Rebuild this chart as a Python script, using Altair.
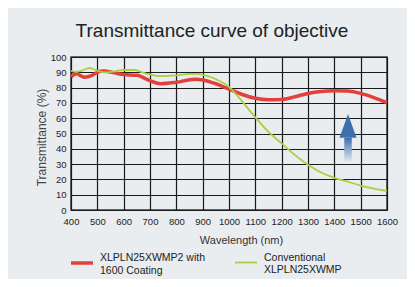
import altair as alt
import pandas as pd

wl_new = [400, 420, 450, 480, 500, 525, 560, 600, 650, 700, 740, 800, 870, 900, 950,
          1000, 1050, 1100, 1150, 1200, 1250, 1300, 1350, 1400, 1450, 1500, 1550, 1600]
t_new = [87, 89, 86.8, 88, 90, 90.8, 89.8, 88.5, 88, 84.5, 82.5, 83.5, 85.5, 85, 82.5,
         79, 75.5, 73, 72, 72.2, 74, 76.2, 77.5, 78, 77.7, 76.2, 73.5, 70.2]

wl_old = [400, 420, 440, 470, 500, 530, 560, 600, 640, 670, 700, 750, 800, 850, 880, 920,
          950, 1000, 1050, 1100, 1150, 1200, 1250, 1300, 1350, 1400, 1450, 1500, 1550, 1600]
t_old = [91, 90.3, 91, 92.8, 91, 90, 90.5, 91.5, 91.5, 90, 88.5, 87.5, 88, 89, 89, 87.5,
         85.5, 80.5, 71, 60.5, 51, 43.5, 36, 29.5, 24.5, 21, 18.5, 16, 14, 12.5]

series = ["XLPLN25XWMP2 with|1600 Coating", "Conventional|XLPLN25XWMP"]
colors = ["#E2403A", "#A8D040"]
widths = [3.5, 1.8]

arrow_x = [1452]
arrow_base = [47.2]
arrow_tail = [30.8]

x_ticks = list(range(400, 1601, 100))
y_ticks = list(range(0, 101, 10))

df = pd.concat([
    pd.DataFrame({"wl": wl_new, "t": t_new, "series": series[0], "order": range(len(wl_new))}),
    pd.DataFrame({"wl": wl_old, "t": t_old, "series": series[1], "order": range(len(wl_old))}),
])
arrow = pd.DataFrame({"wl": arrow_x, "t": arrow_base, "t2": arrow_tail})

FONT = "Liberation Sans"

x_enc = alt.X("wl:Q", scale=alt.Scale(domain=[400, 1600], nice=False, padding=0),
              axis=alt.Axis(values=x_ticks, title="Wavelength (nm)", grid=True,
                            ticks=False, domain=False, labelPadding=6, format="d",
                            labelFlush=False, labelOverlap=False,
                            labelFontSize=9.5, labelColor="#222", labelFont=FONT,
                            titleFont=FONT, titleFontSize=11, titleFontWeight="normal",
                            titleColor="#333", titlePadding=9, titleX=170,
                            gridColor="#1a1a1a", gridWidth=1.2, gridOpacity=1))
y_enc = alt.Y("t:Q", scale=alt.Scale(domain=[0, 100], nice=False, padding=0),
              axis=alt.Axis(values=y_ticks, title="Transmittance (%)", grid=True,
                            ticks=False, domain=False, labelPadding=5,
                            labelFlush=False, labelOverlap=False,
                            labelFontSize=9.5, labelColor="#222", labelFont=FONT,
                            titleFont=FONT, titleFontSize=12, titleFontWeight="normal",
                            titleColor="#444", titlePadding=2, titleY=80,
                            gridColor="#1a1a1a", gridWidth=1.2, gridOpacity=1))

lines = alt.Chart(df).mark_line(interpolate="monotone").encode(
    x=x_enc,
    y=y_enc,
    order="order:Q",
    color=alt.Color("series:N", scale=alt.Scale(domain=series, range=colors),
                    legend=alt.Legend(title=None, orient="none", legendX=-2, legendY=193,
                                      direction="horizontal", columns=2, columnPadding=25,
                                      symbolType="stroke", symbolSize=484,
                                      labelExpr="split(datum.label, '|')",
                                      labelBaseline="bottom",
                                      labelFont=FONT, labelFontSize=10.5, labelColor="#222",
                                      labelOffset=5, labelLimit=300)),
    strokeWidth=alt.StrokeWidth("series:N", scale=alt.Scale(domain=series, range=widths),
                                legend=None),
)

shaft = alt.Chart(arrow).mark_bar(
    width=7.5,
    color=alt.Gradient(gradient="linear",
                       stops=[alt.GradientStop(color="#3E70AC", offset=0),
                              alt.GradientStop(color="#E8EEF5", offset=1)],
                       x1=0, x2=0, y1=0, y2=1),
).encode(x=x_enc, y=y_enc, y2="t2:Q")

head = alt.Chart(arrow).mark_point(
    shape="M-1,0L1,0L0,-2.8Z", filled=True, size=289, color="#3E70AC", opacity=1,
).encode(x=x_enc, y=y_enc)

chart = alt.layer(lines, shaft, head).properties(
    width=316, height=153,
    background="#E9EDF0",
    padding={"left": 63, "top": 49, "right": 20, "bottom": 69},
    autosize=alt.AutoSizeParams(type="none"),
    title=alt.TitleParams("Transmittance curve of objective", font=FONT, fontSize=19,
                          fontWeight="normal", color="#222", anchor="middle",
                          frame="group", dx=-17, offset=-4, baseline="alphabetic"),
).configure_view(stroke="#3a3a3a", strokeWidth=1.5, fill="#E9EDF0")

chart.save("out.html", embed_options={"renderer": "svg", "actions": False})
